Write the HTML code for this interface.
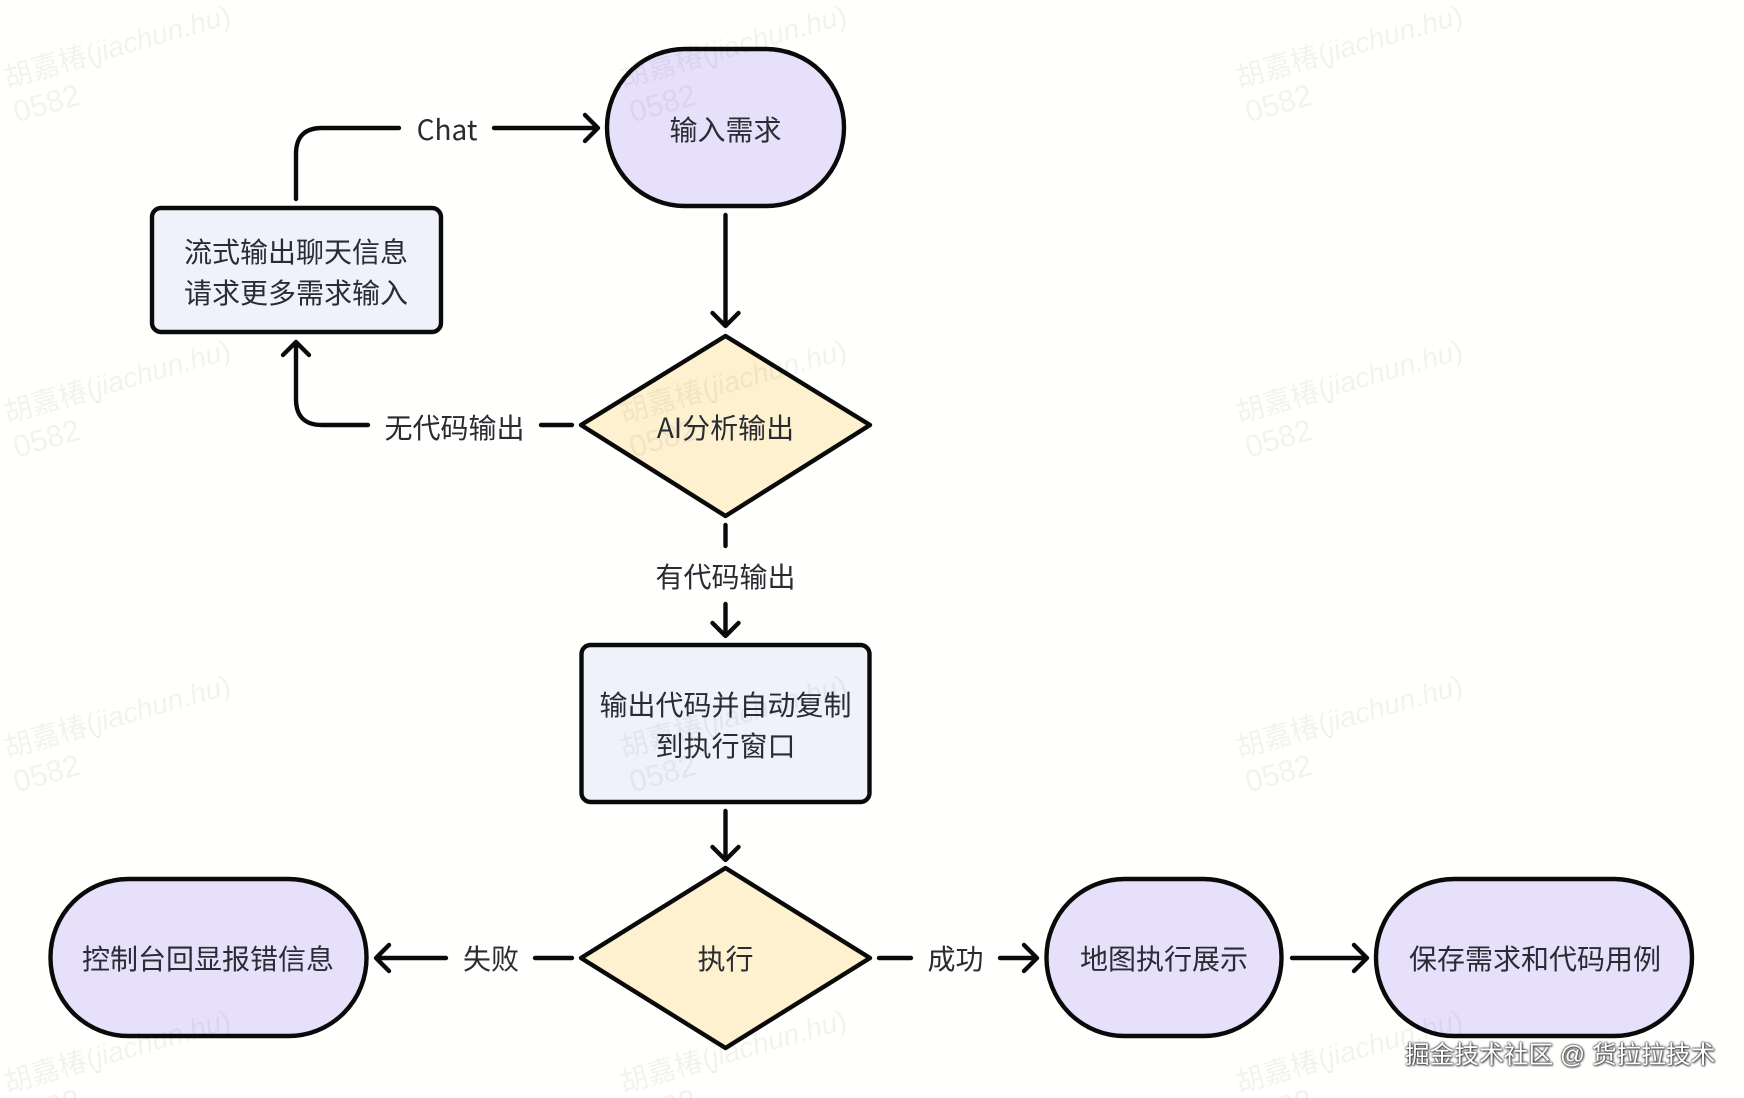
<!DOCTYPE html>
<html><head><meta charset="utf-8"><style>
html,body{margin:0;padding:0;background:#fffffd}
#w{position:relative;width:1744px;height:1098px;overflow:hidden}
svg{position:absolute;left:0;top:0}
text{font-family:"Noto Sans CJK SC","Liberation Sans",sans-serif;font-size:28px;fill:#2b2b33;text-anchor:middle}
.wm text{font-family:"Liberation Sans","Noto Sans CJK SC",sans-serif;font-size:28.5px;fill:#000;fill-opacity:.05;text-anchor:start}
.wm text.d{font-size:30.5px}
.n{stroke:#0a0a0a;stroke-width:4.4;stroke-linejoin:round}
.c{fill:none;stroke:#0a0a0a;stroke-width:4.4;stroke-linecap:round;stroke-linejoin:round}
#f{position:absolute;left:1405px;top:1038px;width:320px;font:24.7px/36px "Liberation Sans","Noto Sans CJK SC",sans-serif;color:#fff;white-space:nowrap;text-shadow:0 0 2px #333,0 0 2px #333,1px 1px 2px #555}
</style></head><body><div id="w">
<svg width="1744" height="1098" viewBox="0 0 1744 1098" xmlns="http://www.w3.org/2000/svg">
<rect x="607" y="49" width="237" height="157" rx="78" fill="#e6e0fb" class="n"/>
<rect x="152" y="208" width="289" height="124" rx="9" fill="#eff2fa" class="n"/>
<polygon points="581,425 725.5,336 870,425 725.5,516" fill="#fdf1cf" class="n"/>
<rect x="581.5" y="645" width="288" height="157" rx="9" fill="#eff2fa" class="n"/>
<polygon points="581,958 725.5,868 870,958 725.5,1048" fill="#fdf1cf" class="n"/>
<rect x="50.5" y="879" width="316" height="157" rx="78" fill="#e6e0fb" class="n"/>
<rect x="1046.5" y="879" width="235" height="157" rx="78" fill="#e6e0fb" class="n"/>
<rect x="1376" y="879" width="316" height="157" rx="78" fill="#e6e0fb" class="n"/>
<g class="c">
<path d="M296 199V154Q296 128 322 128H399"/>
<path d="M494 128H598M585 115L598 128L585 141"/>
<path d="M725.5 215V326M712.5 313L725.5 326L738.5 313"/>
<path d="M572 425H541"/>
<path d="M368 425H322Q296 425 296 399V342M283 355L296 342L309 355"/>
<path d="M725.5 525V546"/>
<path d="M725.5 604V636M712.5 623L725.5 636L738.5 623"/>
<path d="M725.5 811V860M712.5 847L725.5 860L738.5 847"/>
<path d="M572 958H535"/>
<path d="M446 958H376M389 945L376 958L389 971"/>
<path d="M879 958H911"/>
<path d="M1000 958H1037M1024 945L1037 958L1024 971"/>
<path d="M1292 958H1367M1354 945L1367 958L1354 971"/>
</g>
<text x="725.5" y="140">输入需求</text>
<text x="447" y="140">Chat</text>
<text x="296" y="262">流式输出聊天信息</text>
<text x="296" y="303">请求更多需求输入</text>
<text x="454.500" y="438">无代码输出</text>
<text x="725.5" y="438">AI分析输出</text>
<text x="725.5" y="587">有代码输出</text>
<text x="725.5" y="715">输出代码并自动复制</text>
<text x="725.5" y="756">到执行窗口</text>
<text x="725.5" y="969">执行</text>
<text x="491" y="969">失败</text>
<text x="208" y="969">控制台回显报错信息</text>
<text x="955.500" y="969">成功</text>
<text x="1164" y="969">地图执行展示</text>
<text x="1535" y="969">保存需求和代码用例</text>
<g class="wm">
<g transform="translate(7,88) rotate(-16)"><text>胡嘉椿(<tspan font-style="italic">jiachun.hu</tspan>)</text><text class="d" x="0" y="36">0582</text></g>
<g transform="translate(623,88) rotate(-16)"><text>胡嘉椿(<tspan font-style="italic">jiachun.hu</tspan>)</text><text class="d" x="0" y="36">0582</text></g>
<g transform="translate(1239,88) rotate(-16)"><text>胡嘉椿(<tspan font-style="italic">jiachun.hu</tspan>)</text><text class="d" x="0" y="36">0582</text></g>
<g transform="translate(7,423) rotate(-16)"><text>胡嘉椿(<tspan font-style="italic">jiachun.hu</tspan>)</text><text class="d" x="0" y="36">0582</text></g>
<g transform="translate(623,423) rotate(-16)"><text>胡嘉椿(<tspan font-style="italic">jiachun.hu</tspan>)</text><text class="d" x="0" y="36">0582</text></g>
<g transform="translate(1239,423) rotate(-16)"><text>胡嘉椿(<tspan font-style="italic">jiachun.hu</tspan>)</text><text class="d" x="0" y="36">0582</text></g>
<g transform="translate(7,758) rotate(-16)"><text>胡嘉椿(<tspan font-style="italic">jiachun.hu</tspan>)</text><text class="d" x="0" y="36">0582</text></g>
<g transform="translate(623,758) rotate(-16)"><text>胡嘉椿(<tspan font-style="italic">jiachun.hu</tspan>)</text><text class="d" x="0" y="36">0582</text></g>
<g transform="translate(1239,758) rotate(-16)"><text>胡嘉椿(<tspan font-style="italic">jiachun.hu</tspan>)</text><text class="d" x="0" y="36">0582</text></g>
<g transform="translate(7,1093) rotate(-16)"><text>胡嘉椿(<tspan font-style="italic">jiachun.hu</tspan>)</text><text class="d" x="0" y="36">0582</text></g>
<g transform="translate(623,1093) rotate(-16)"><text>胡嘉椿(<tspan font-style="italic">jiachun.hu</tspan>)</text><text class="d" x="0" y="36">0582</text></g>
<g transform="translate(1239,1093) rotate(-16)"><text>胡嘉椿(<tspan font-style="italic">jiachun.hu</tspan>)</text><text class="d" x="0" y="36">0582</text></g>
</g>
</svg>
<div id="f">掘金技术社区 @ 货拉拉技术</div>
</div></body></html>
